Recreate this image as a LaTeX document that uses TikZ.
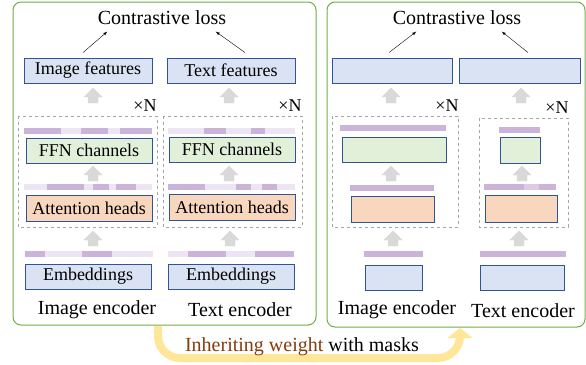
\documentclass[tikz,border=0pt]{standalone}
\usepackage{fontspec}
\setmainfont{Liberation Serif}
\usetikzlibrary{arrows.meta}
\definecolor{boxblue}{HTML}{DAE3F3}
\definecolor{boxline}{HTML}{2F5597}
\definecolor{boxgreen}{HTML}{E2F0D9}
\definecolor{boxorange}{HTML}{F9D6BE}
\definecolor{maskdark}{HTML}{CBB4DA}
\definecolor{maskmid}{HTML}{DCCBE6}
\definecolor{masklight}{HTML}{EDE5F3}
\definecolor{panelgreen}{HTML}{70AD47}
\definecolor{arrowgray}{HTML}{D9D9D9}
\definecolor{inheritbrown}{HTML}{843C0C}
\definecolor{inherityellow}{HTML}{FFE699}
\tikzstyle{myBox} = [rectangle, draw=boxline, line width=0.9pt, inner sep=0pt, minimum height=25pt, font=\fontsize{18}{20}\selectfont]
\tikzstyle{featBox} = [myBox, fill=boxblue]
\tikzstyle{ffnBox} = [myBox, fill=boxgreen]
\tikzstyle{attnBox} = [myBox, fill=boxorange]
\tikzstyle{bigText} = [font=\fontsize{20}{24}\selectfont]
\tikzstyle{timesN} = [font=\fontsize{18}{20}\selectfont]
\tikzstyle{panel} = [draw=panelgreen, line width=1pt, rounded corners=8pt]
\tikzstyle{layerBox} = [draw=gray!70, dashed, line width=0.6pt]
% mask bar: x1, x2, y, dark segments
\newcommand{\maskBar}[4]{
	\fill[masklight] (#1,#3) rectangle (#2,#3+6);
	\foreach \a/\b in {#4} {\fill[maskdark] (\a,#3) rectangle (\b,#3+6);}
}
% grey block arrow pointing up, centred at (x,y)
\newcommand{\upArr}[2]{
	\filldraw[fill=arrowgray, draw=gray!30, line width=0.4pt]
	(#1-5,#2+7) -- (#1-5,#2+1) -- (#1-9,#2+1) -- (#1,#2-8) -- (#1+9,#2+1) -- (#1+5,#2+1) -- (#1+5,#2+7) -- cycle;
}

\begin{document}
\begin{tikzpicture}[x=1pt, y=-1pt]
		\useasboundingbox (0,0) rectangle (586,364);
		\draw[panel] (13,2) rectangle (316,325);
		\draw[panel] (327,2) rectangle (585,327);
		
		% left: dense model
		\node [bigText](loss1) at (162,18){Contrastive loss};
		\node [featBox,minimum width=128pt](f1) at (88,70.5){Image features};
		\node [featBox,minimum width=128pt](f2) at (231,70.5){Text features};
		\draw [-latex] ([xshift=-5pt,yshift=5pt]f1.north) -- ([xshift=13pt,yshift=-3pt]loss1.south west);
		\draw [-latex] ([xshift=14pt,yshift=5pt]f2.north) -- ([xshift=-14pt,yshift=-3pt]loss1.south east);
		\upArr{93}{96}
		\upArr{229}{96}
		\node [timesN](n1) at (145,106){×N};
		\node [timesN](n2) at (290,106){×N};
		\draw [layerBox] (18,116) rectangle (157,227);
		\draw [layerBox] (163,116) rectangle (302,227);
		\maskBar{24}{152}{128}{24/61,81/108,120/152}
		\maskBar{168}{295}{128}{204/226,251/265}
		\node [ffnBox,minimum width=126pt](c1) at (89,150.5){FFN channels};
		\node [ffnBox,minimum width=126pt](c2) at (232,149.5){FFN channels};
		\upArr{93}{174}
		\upArr{229}{174}
		\maskBar{24}{152}{184}{47/84,93/109,116/136}
		\maskBar{168}{295}{184}{168/205,236/251,262/277}
		\node [attnBox,minimum width=126pt,minimum height=26pt](a1) at (89,208){Attention heads};
		\node [attnBox,minimum width=126pt,minimum height=26pt](a2) at (232,207){Attention heads};
		\upArr{93}{239}
		\upArr{230}{239}
		\maskBar{25}{153}{251}{25/45,82/112}
		\maskBar{168}{294}{251}{188/226,255/294}
		\node [featBox,minimum width=126pt](e1) at (88,276.5){Embeddings};
		\node [featBox,minimum width=126pt](e2) at (231,276.5){Embeddings};
		\node [bigText](l1) at (97,310){Image encoder};
		\node [bigText](l2) at (240,310){Text encoder};
		
		% right: pruned model
		\node [bigText](loss2) at (457,18){Contrastive loss};
		\node [featBox,minimum width=120pt](f3) at (392,70.5){};
		\node [featBox,minimum width=121pt](f4) at (519.5,70.5){};
		\draw [-latex] ([xshift=-3pt,yshift=5pt]f3.north) -- ([xshift=27pt,yshift=-3pt]loss2.south west);
		\draw [-latex] ([xshift=8.5pt,yshift=5pt]f4.north) -- ([xshift=-23pt,yshift=-3pt]loss2.south east);
		\upArr{391}{96}
		\upArr{521}{96}
		\node [timesN](n3) at (447,106){×N};
		\node [timesN](n4) at (557,108){×N};
		\draw [layerBox] (332,116) rectangle (458,227);
		\draw [layerBox] (479,118) rectangle (568,227);
		\maskBar{340}{446}{125}{340/446}
		\maskBar{499}{540}{127}{499/540}
		\node [ffnBox,minimum width=104pt](c3) at (394,149.5){};
		\node [ffnBox,minimum width=40pt,minimum height=26pt](c4) at (520,150){};
		\upArr{391}{174}
		\upArr{522}{174}
		\maskBar{350}{434}{185}{350/434}
		\maskBar{484}{556}{184}{484/524,539/556}
		\fill[maskmid] (524,184) rectangle (539,190);
		\node [attnBox,minimum width=83pt,minimum height=26pt](a3) at (392.5,209){};
		\node [attnBox,minimum width=72pt,minimum height=27pt](a4) at (521,208.5){};
		\upArr{393}{239}
		\upArr{519}{239}
		\maskBar{364}{423}{251}{364/423}
		\maskBar{480}{566}{251}{480/566}
		\node [featBox,minimum width=57pt](e3) at (393.5,277.5){};
		\node [featBox,minimum width=84pt](e4) at (522,277.5){};
		\node [bigText](l3) at (397,310){Image encoder};
		\node [bigText](l4) at (523,311){Text encoder};
		
		% inheriting weights
		\coordinate (inh1) at (158,326);
		\coordinate (inh2) at (460,328);
		\draw [line width=8pt, inherityellow, rounded corners=22pt, -{Triangle[width=25pt,length=10pt]}] (inh1) -- (158,358) -- (460,358) -- (inh2);
		\node [bigText](inh) at (302,347){\textcolor{inheritbrown}{Inheriting weight} with masks};
		
		\end{tikzpicture}
\end{document}
